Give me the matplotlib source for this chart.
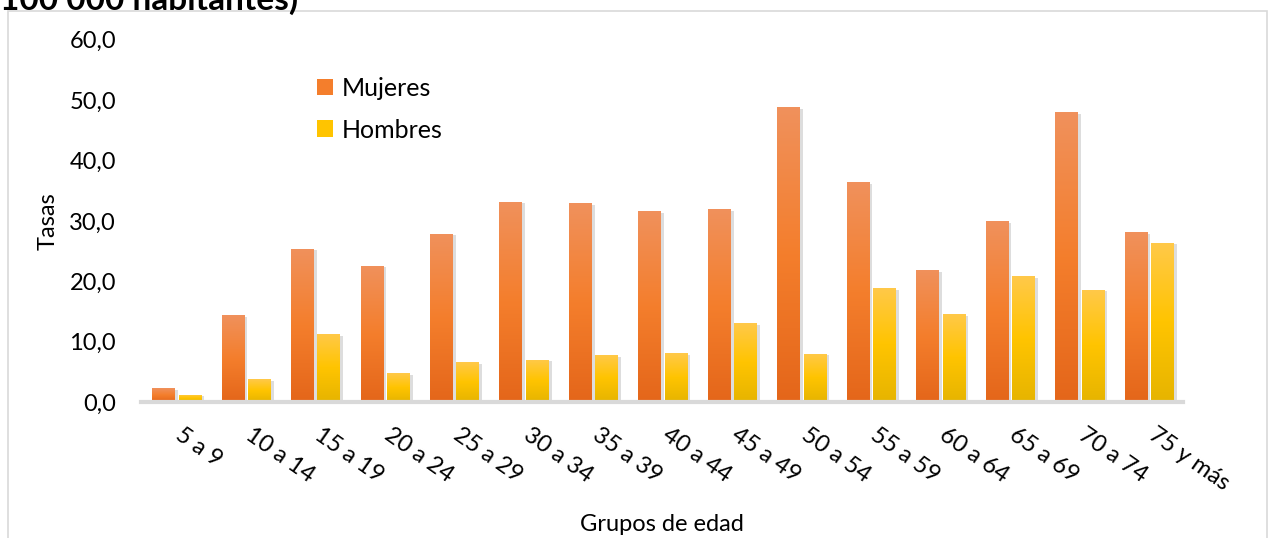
import matplotlib.pyplot as plt
import numpy as np
from matplotlib.colors import LinearSegmentedColormap
from matplotlib.patches import Rectangle

plt.rcParams['font.family'] = ['Lato', 'DejaVu Sans']

# data
grupos = ['5 a 9', '10 a 14', '15 a 19', '20 a 24', '25 a 29', '30 a 34', '35 a 39',
          '40 a 44', '45 a 49', '50 a 54', '55 a 59', '60 a 64', '65 a 69', '70 a 74',
          '75 y más']
mujeres = [2.3, 14.4, 25.4, 22.6, 27.9, 33.2, 32.9, 31.6, 31.9, 48.8, 36.4, 21.9, 29.9, 48.0, 28.1]
hombres = [1.2, 3.8, 11.3, 4.8, 6.6, 7.0, 7.8, 8.1, 13.0, 8.0, 18.9, 14.6, 20.8, 18.6, 26.4]
yticks = [0, 10, 20, 30, 40, 50, 60]

cmap_m = LinearSegmentedColormap.from_list('m', ['#E4661A', '#F47E2C', '#F0915C'])
cmap_h = LinearSegmentedColormap.from_list('h', ['#E6B400', '#FFC400', '#FFC94A'])

fig = plt.figure(figsize=(12.73, 5.38), dpi=100)
ax = fig.add_axes([141 / 1273, 0.253, 1042 / 1273, 0.673])

# light frame around the chart area
fig.patches.append(Rectangle((8 / 1273, -0.1), 1259 / 1273, 1.08, transform=fig.transFigure,
                             fill=False, edgecolor='#D9D9D9', linewidth=1.2))

x = np.arange(len(grupos))
w = 0.32
grad = np.linspace(0, 1, 256).reshape(-1, 1)


def gradient_bars(xpos, vals, cmap, label):
    bars = ax.bar(xpos, vals, w, color=cmap(0.5), label=label, zorder=3)
    for b in bars:
        # soft shadow
        sh = Rectangle((b.get_x() + 0.05, 0), b.get_width(), b.get_height() - 0.3,
                       facecolor='#9E9E9E', alpha=0.35, edgecolor='none', zorder=2)
        ax.add_patch(sh)
        x0, x1 = b.get_x(), b.get_x() + b.get_width()
        im = ax.imshow(grad, cmap=cmap, aspect='auto', origin='lower',
                       extent=[x0, x1, 0, b.get_height()], zorder=4)
        im.set_clip_path(b)
    return bars


gradient_bars(x - 0.18, mujeres, cmap_m, 'Mujeres')
gradient_bars(x + 0.2, hombres, cmap_h, 'Hombres')

ax.set_xlim(-0.5, len(grupos) - 0.5)
ax.set_ylim(0, 60)
ax.set_yticks(yticks)
ax.set_yticklabels([f'{v:.1f}'.replace('.', ',') for v in yticks], fontsize=17)
ax.set_xticks(x + 0.12)
ax.set_xticklabels(grupos, rotation=-35, ha='left', va='top', rotation_mode='anchor', fontsize=17)
ax.tick_params(axis='y', length=0, pad=18)
ax.tick_params(axis='x', length=0, pad=16)

for s in ['top', 'right', 'left']:
    ax.spines[s].set_visible(False)
ax.spines['bottom'].set_color('#D9D9D9')
ax.spines['bottom'].set_linewidth(3)
ax.spines['bottom'].set_zorder(5)

ax.set_ylabel('Tasas', fontsize=17, labelpad=8)
ax.set_xlabel('Grupos de edad', fontsize=17, labelpad=14)

leg = ax.legend(loc='upper left', bbox_to_anchor=(0.147, 0.96), frameon=False, fontsize=18,
                handlelength=0.65, handleheight=0.65, labelspacing=0.75, handletextpad=0.35)

fig.text(0.0, 1 - 10 / 538, '100 000 habitantes)', fontsize=24, fontweight='bold',
         va='baseline', ha='left')

fig.savefig('out.png', dpi=100)
